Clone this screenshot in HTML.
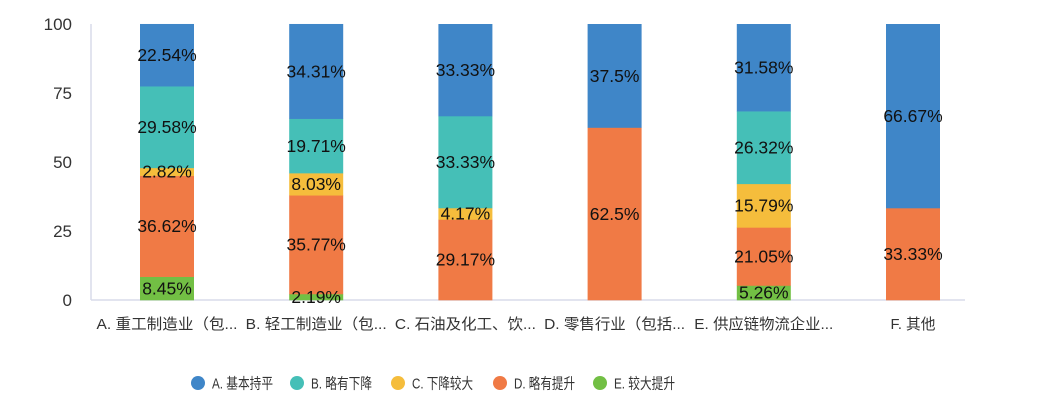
<!DOCTYPE html>
<html><head><meta charset="utf-8"><style>
html,body{margin:0;padding:0;background:#fff;}
svg text{font-family:"Liberation Sans","Noto Sans CJK SC",sans-serif;}
</style></head><body>
<svg id="c" width="1047" height="406" xmlns="http://www.w3.org/2000/svg"></svg>
<script>
const s=document.getElementById('c');
const col={A:'#3f86c8',B:'#45bfb7',C:'#f5bd3c',D:'#f07a45',E:'#72bf44'};
const data=[
 {n:'A. 重工制造业（包...',w:141,v:[['E',8.45],['D',36.62],['C',2.82],['B',29.58],['A',22.54]]},
 {n:'B. 轻工制造业（包...',w:141,v:[['E',2.19],['D',35.77],['C',8.03],['B',19.71],['A',34.31]]},
 {n:'C. 石油及化工、饮...',w:141,v:[['D',29.17],['C',4.17],['B',33.33],['A',33.33]]},
 {n:'D. 零售行业（包括...',w:141,v:[['D',62.5],['A',37.5]]},
 {n:'E. 供应链物流企业...',w:139,v:[['E',5.26],['D',21.05],['C',15.79],['B',26.32],['A',31.58]]},
 {n:'F. 其他',w:45,v:[['D',33.33],['A',66.67]]}];
const y0=300,k=2.76;
let h='';
h+='<line x1="91" y1="24" x2="91" y2="300" stroke="#d8dcea" stroke-width="1.5"/>';
h+='<line x1="91" y1="300" x2="965" y2="300" stroke="#d8dcea" stroke-width="1.5"/>';
[0,25,50,75,100].forEach(t=>{h+=`<text x="72" y="${y0-t*k+6}" text-anchor="end" font-size="17" fill="#333">${t}</text>`});
data.forEach((d,i)=>{
 const cx=167+i*149.2;let acc=0;
 let labels='';
 d.v.forEach(([c,v])=>{
  const top=y0-(acc+v)*k,bot=y0-acc*k;
  h+=`<rect x="${cx-27}" y="${top}" width="54" height="${bot-top+0.3}" fill="${col[c]}"/>`;
  labels+=`<text x="${cx}" y="${(top+bot)/2+6}" text-anchor="middle" font-size="17.5" fill="#111">${v}%</text>`;
  acc+=v;
 });
 h+=labels;
 h+=`<text x="${cx}" y="329" text-anchor="middle" font-size="15" textLength="${d.w}" lengthAdjust="spacingAndGlyphs" fill="#333">${d.n}</text>`;
});
const leg=[['A','A. 基本持平',198],['B','B. 略有下降',297],['C','C. 下降较大',398],['D','D. 略有提升',500],['E','E. 较大提升',600]];
leg.forEach(([c,t,x])=>{
 h+=`<circle cx="${x}" cy="383" r="7" fill="${col[c]}"/>`;
 h+=`<text x="${x+14}" y="388.5" font-size="15" textLength="61" lengthAdjust="spacingAndGlyphs" fill="#333">${t}</text>`;
});
s.innerHTML=h;
</script>
</body></html>
